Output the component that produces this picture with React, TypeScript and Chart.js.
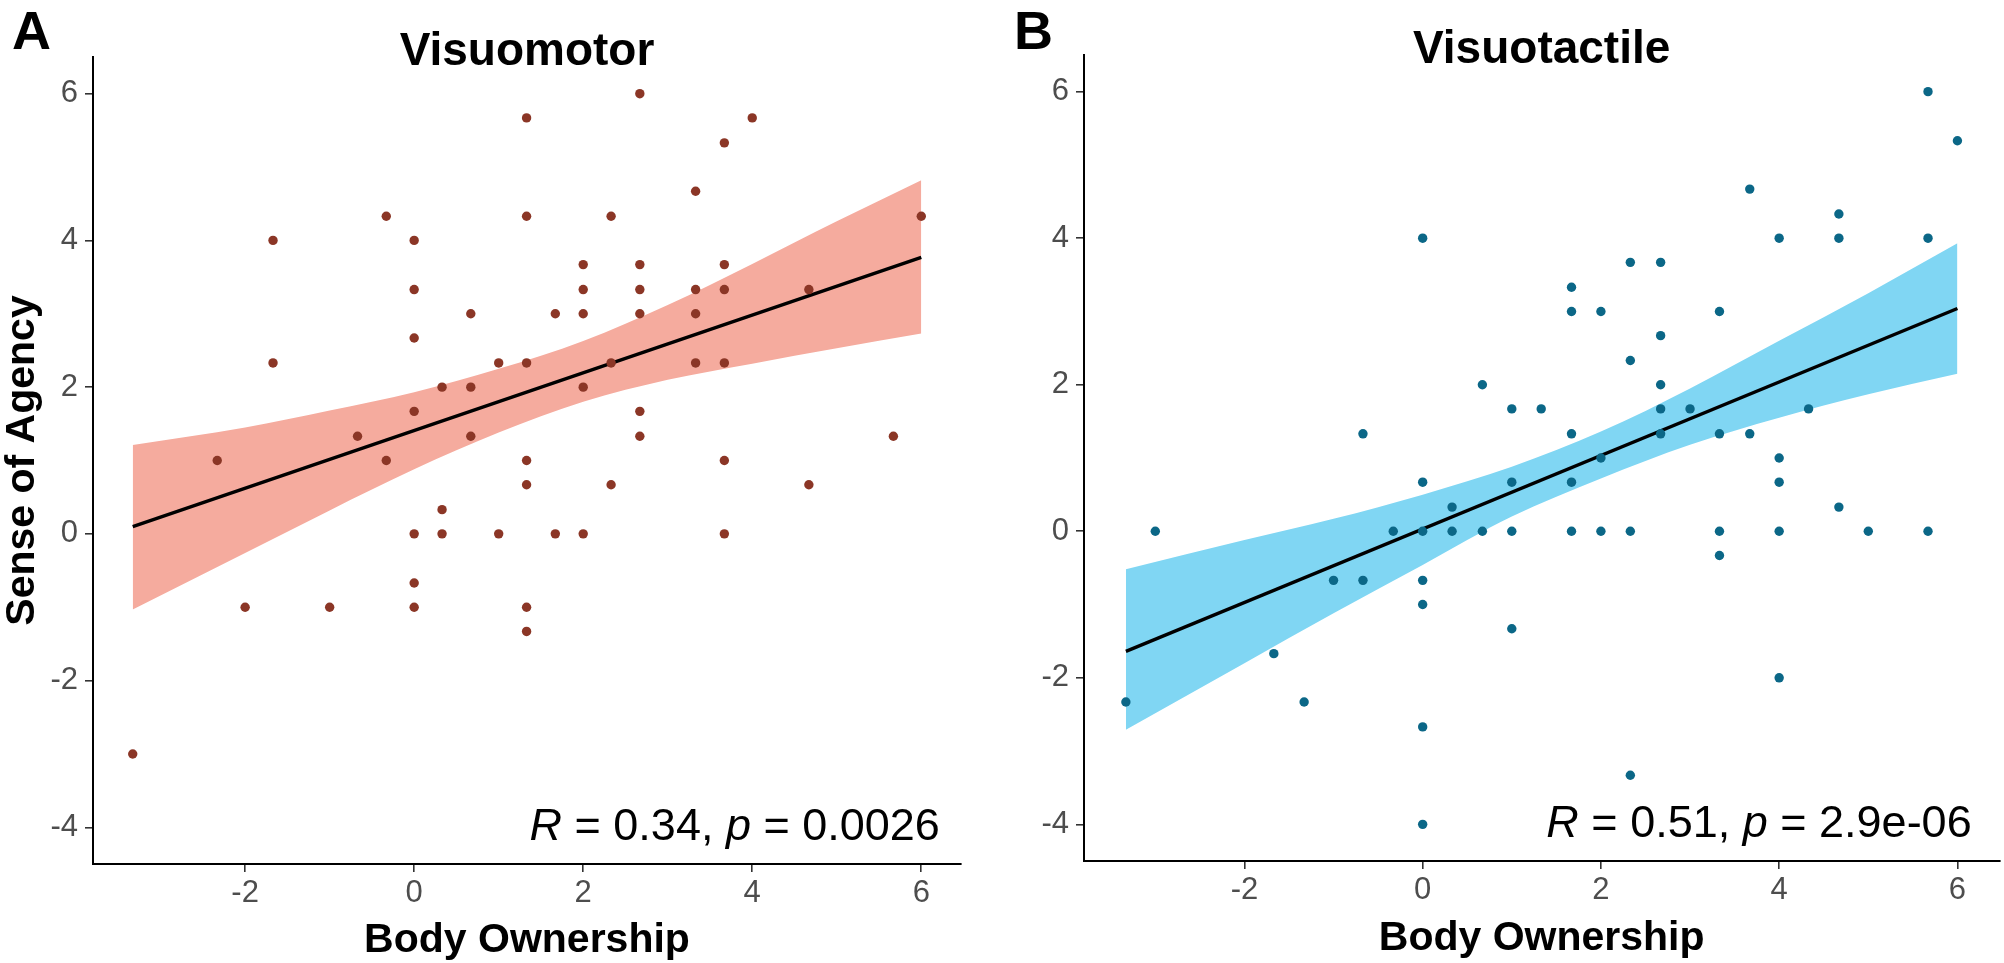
import React, { useEffect, useRef } from "react";
import { Chart, registerables } from "chart.js";

Chart.register(...registerables);

// ---------- data ----------
const xTicks = [-2, 0, 2, 4, 6];
const yTicks = [-4, -2, 0, 2, 4, 6];
const xRange = [-3.8, 6.47];
const yRange = [-4.5, 6.5];

const panelTags = ["A", "B"];
const panelTitles = ["Visuomotor", "Visuotactile"];
const xTitle = "Body Ownership";
const yTitle = "Sense of Agency";
const statR = ["0.34", "0.51"];
const statP = ["0.0026", "2.9e-06"];

// Visuomotor points
const vmX = [
  2.67, 1.33, 4, 3.67, 3.33, -0.33, 1.33, 2.33, 6, -1.67, 0, 2, 2.67, 3.67, 0, 2,
  2.67, 3.33, 3.67, 4.67, 0.67, 1.67, 2, 2.67, 3.33, 0, -1.67, 1, 1.33, 2.33, 3.33,
  3.67, 0.33, 0.67, 2, 0, 2.67, -0.67, 0.67, 2.67, 5.67, -2.33, -0.33, 1.33, 3.67,
  1.33, 2.33, 4.67, 0.33, 0, 0.33, 1, 1.67, 2, 3.67, 0, -2, -1, 0, 1.33, 1.33, -3.33,
];
const vmY = [
  6, 5.67, 5.67, 5.33, 4.67, 4.33, 4.33, 4.33, 4.33, 4, 4, 3.67, 3.67, 3.67, 3.33, 3.33,
  3.33, 3.33, 3.33, 3.33, 3, 3, 3, 3, 3, 2.67, 2.33, 2.33, 2.33, 2.33, 2.33,
  2.33, 2, 2, 2, 1.67, 1.67, 1.33, 1.33, 1.33, 1.33, 1, 1, 1, 1,
  0.67, 0.67, 0.67, 0.33, 0, 0, 0, 0, 0, 0, -0.67, -1, -1, -1, -1, -1.33, -3,
];

// Visuotactile points
const vtX = [
  5.67, 6, 3.67, 4.67, 0, 4, 4.67, 5.67, 2.33, 2.67, 1.67, 1.67, 2, 3.33, 2.67, 2.33,
  0.67, 2.67, 1, 1.33, 2.67, 3, 4.33, -0.67, 1.67, 2.67, 3.33, 3.67, 2, 4,
  0, 1, 1.67, 4, 0.33, 4.67, -3, -0.33, 0, 0.33, 0.67, 1, 1.67, 2, 2.33, 3.33, 4, 5,
  5.67, 3.33, -1, -0.67, 0, 0, 1, -1.67, 4, -3.33, -1.33, 0, 2.33, 0,
];
const vtY = [
  6, 5.33, 4.67, 4.33, 4, 4, 4, 4, 3.67, 3.67, 3.33, 3, 3, 3, 2.67, 2.33,
  2, 2, 1.67, 1.67, 1.67, 1.67, 1.67, 1.33, 1.33, 1.33, 1.33, 1.33, 1, 1,
  0.67, 0.67, 0.67, 0.67, 0.33, 0.33, 0, 0, 0, 0, 0, 0, 0, 0, 0, 0, 0, 0,
  0, -0.33, -0.67, -0.67, -0.67, -1, -1.33, -1.67, -2, -2.33, -2.33, -2.67, -3.33, -4,
];

// confidence bands & fitted lines
const bandX = [-3.33, -2, -1, 0, 1, 2, 3, 4, 5, 6];
const vmUpper = [1.21, 1.45, 1.68, 1.93, 2.25, 2.63, 3.12, 3.68, 4.26, 4.82];
const vmLower = [-1.03, -0.26, 0.32, 0.88, 1.38, 1.8, 2.1, 2.32, 2.53, 2.73];
const vtUpper = [-0.52, -0.12, 0.17, 0.5, 0.88, 1.36, 1.95, 2.6, 3.25, 3.93];
const vtLower = [-2.71, -1.8, -1.12, -0.46, 0.2, 0.72, 1.18, 1.55, 1.87, 2.15];
const fitX = [-3.33, 6];
const vmFitY = [0.1, 3.77];
const vtFitY = [-1.64, 3.04];

// ---------- styling / layout ----------
const FONT = '"Liberation Sans", Arial, Helvetica, sans-serif';

const panels = [
  {
    px: vmX, py: vmY, up: vmUpper, lo: vmLower, fit: vmFitY,
    dot: "#8B3626", band: "#F5AB9E",
    left: 0, yAxisWidth: 93, padTop: 57, padRight: 41, xAxisHeight: 99,
    titleBase: 65, xTitleBase: 952, showY: true, annX: 6.22, annY: -4.17,
  },
  {
    px: vtX, py: vtY, up: vtUpper, lo: vtLower, fit: vtFitY,
    dot: "#0B6787", band: "#80D6F3",
    left: 1002, yAxisWidth: 82, padTop: 55, padRight: 0, xAxisHeight: 102,
    titleBase: 63, xTitleBase: 950, showY: false, annX: 6.16, annY: -4.17,
  },
];

const W = 1002;
const H = 963;

function Panel({ idx }: { idx: number }) {
  const ref = useRef<HTMLCanvasElement | null>(null);
  useEffect(() => {
    const p = panels[idx];
    const canvas = ref.current!;
    const deco = {
      id: "deco" + idx,
      afterDraw(chart: any) {
        const ctx = chart.ctx;
        const a = chart.chartArea;
        const cx = (a.left + a.right) / 2;
        ctx.save();
        ctx.fillStyle = "#000";
        ctx.textBaseline = "alphabetic";
        ctx.textAlign = "left";
        ctx.font = `bold 54px ${FONT}`;
        ctx.fillText(panelTags[idx], 12, 49);
        ctx.textAlign = "center";
        ctx.font = `bold 46px ${FONT}`;
        ctx.fillText(panelTitles[idx], cx, p.titleBase);
        ctx.font = `bold 41px ${FONT}`;
        ctx.fillText(xTitle, cx, p.xTitleBase);
        if (p.showY) {
          ctx.save();
          ctx.translate(34, (a.top + a.bottom) / 2);
          ctx.rotate(-Math.PI / 2);
          ctx.fillText(yTitle, 0, 0);
          ctx.restore();
        }
        // correlation annotation
        const pieces = [
          { t: "R", it: true },
          { t: " = " + statR[idx] + ", ", it: false },
          { t: "p", it: true },
          { t: " = " + statP[idx], it: false },
        ];
        const fnt = (it: boolean) => `${it ? "italic " : ""}45px ${FONT}`;
        let total = 0;
        for (const pc of pieces) {
          ctx.font = fnt(pc.it);
          total += ctx.measureText(pc.t).width;
        }
        const rx = chart.scales.x.getPixelForValue(p.annX);
        const by = chart.scales.y.getPixelForValue(p.annY);
        let x = rx - total;
        ctx.textAlign = "left";
        for (const pc of pieces) {
          ctx.font = fnt(pc.it);
          ctx.fillText(pc.t, x, by);
          x += ctx.measureText(pc.t).width;
        }
        ctx.restore();
      },
    };

    const chart = new Chart(canvas, {
      type: "scatter",
      data: {
        datasets: [
          {
            data: bandX.map((x, i) => ({ x, y: p.lo[i] })),
            showLine: true, borderWidth: 0, pointRadius: 0, fill: false,
            cubicInterpolationMode: "monotone",
            borderColor: "rgba(0,0,0,0)", order: 3,
          },
          {
            data: bandX.map((x, i) => ({ x, y: p.up[i] })),
            showLine: true, borderWidth: 0, pointRadius: 0, fill: "-1",
            cubicInterpolationMode: "monotone",
            backgroundColor: p.band, borderColor: "rgba(0,0,0,0)", order: 2,
          },
          {
            data: fitX.map((x, i) => ({ x, y: p.fit[i] })),
            showLine: true, borderWidth: 3.4, borderColor: "#000", pointRadius: 0,
            fill: false, order: 1,
          },
          {
            data: p.px.map((x, i) => ({ x, y: p.py[i] })),
            pointRadius: 4.7, pointBackgroundColor: p.dot, pointBorderWidth: 0,
            backgroundColor: p.dot, borderColor: p.dot, order: 0,
          },
        ] as any,
      },
      options: {
        responsive: false,
        animation: false,
        devicePixelRatio: 1,
        layout: { padding: { left: 0, right: p.padRight, top: p.padTop, bottom: 0 } },
        plugins: { legend: { display: false }, tooltip: { enabled: false }, title: { display: false } },
        events: [],
        scales: {
          x: {
            type: "linear",
            min: xRange[0],
            max: xRange[1],
            afterBuildTicks: (s: any) => { s.ticks = xTicks.map((v) => ({ value: v })); },
            afterFit: (s: any) => { s.height = p.xAxisHeight; },
            grid: { drawOnChartArea: false, drawTicks: true, tickLength: 8, color: "#333333", lineWidth: 1.6 },
            border: { display: true, color: "#000", width: 2 },
            ticks: {
              autoSkip: false, padding: 3, color: "#4D4D4D",
              font: { family: FONT, size: 31 },
              callback: (v: any) => String(v),
            },
          },
          y: {
            type: "linear",
            min: yRange[0],
            max: yRange[1],
            afterBuildTicks: (s: any) => { s.ticks = yTicks.map((v) => ({ value: v })); },
            afterFit: (s: any) => { s.width = p.yAxisWidth; },
            grid: { drawOnChartArea: false, drawTicks: true, tickLength: 8, color: "#333333", lineWidth: 1.6 },
            border: { display: true, color: "#000", width: 2 },
            ticks: {
              autoSkip: false, padding: 7, color: "#4D4D4D",
              font: { family: FONT, size: 31 },
              callback: (v: any) => String(v),
            },
          },
        },
      } as any,
      plugins: [deco],
    });
    return () => chart.destroy();
  }, [idx]);
  const p = panels[idx];
  return (
    <canvas
      ref={ref}
      width={W}
      height={H}
      style={{ position: "absolute", left: p.left, top: 0, width: W, height: H }}
    />
  );
}

export default function App() {
  return (
    <div style={{ position: "absolute", left: 0, top: 0, width: 2004, height: 963, background: "#fff" }}>
      <Panel idx={0} />
      <Panel idx={1} />
    </div>
  );
}
